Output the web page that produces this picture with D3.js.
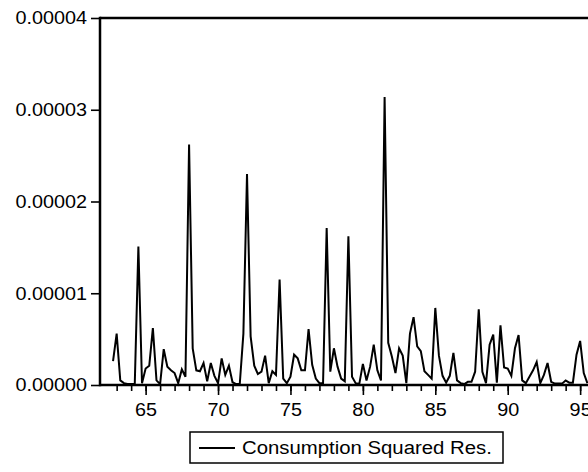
<!DOCTYPE html>
<html>
<head>
<meta charset="utf-8">
<script src="https://cdn.jsdelivr.net/npm/d3@7"></script>
<style>
  body { margin: 0; background: #fff; }
  text { font-family: "Liberation Sans", Arial, sans-serif; fill: #000; }
</style>
</head>
<body>
<script>
// quarterly squared residuals, 1962Q4 onwards (x 1e-6)
const startYear = 1962.75;
const resid = [
  2.6, 5.6, 0.5, 0.2, 0.1, 0.1, 0.1, 15.1, 0.2, 1.8,
  2.1, 6.2, 0.5, 0.1, 3.9, 2.0, 1.6, 1.3, 0.2, 1.7,
  0.9, 26.2, 4.0, 1.6, 1.5, 2.4, 0.4, 2.4, 1.0, 0.2,
  2.9, 1.1, 2.1, 0.3, 0.1, 0.1, 5.6, 23.0, 5.3, 2.1,
  1.2, 1.45, 3.2, 0.2, 1.5, 1.1, 11.5, 0.7, 0.2, 0.9,
  3.3, 2.9, 1.6, 1.6, 6.1, 2.2, 0.7, 0.2, 0.2, 17.1,
  1.45, 4.0, 2.0, 0.7, 0.4, 16.2, 0.9, 0.2, 0.1, 2.3,
  0.5, 2.0, 4.4, 1.6, 0.5, 31.4, 4.6, 3.1, 1.3, 4.0,
  3.2, 0.2, 5.6, 7.4, 4.2, 3.7, 1.5, 1.1, 0.7, 8.4,
  3.2, 1.0, 0.25, 1.0, 3.5, 0.5, 0.2, 0.1, 0.35, 0.35,
  1.45, 8.25, 1.45, 0.2, 4.4, 5.5, 0.25, 6.5, 1.9, 1.8,
  1.0, 4.0, 5.45, 0.5, 0.2, 0.9, 1.6, 2.5, 0.2, 1.1,
  2.4, 0.35, 0.15, 0.15, 0.15, 0.5, 0.25, 0.25, 3.3, 4.8,
  1.3, 0.2
];
const yTicks = [0, 0.00001, 0.00002, 0.00003, 0.00004];
const xLabelYears = [1965, 1970, 1975, 1980, 1985, 1990, 1995];
const seriesName = 'Consumption Squared Res.';

const width = 588;
const height = 472;
const plot = { left: 100, top: 18, right: 591, bottom: 385 };
const fontSize = '18px';

const data = resid.map((v, i) => ({ t: startYear + i * 0.25, v: v * 1e-6 }));

const svg = d3.select('body')
  .append('svg')
  .attr('width', width)
  .attr('height', height);

const x = d3.scaleLinear()
  .domain([1961.85, 1995.75])
  .range([plot.left, plot.right]);

const y = d3.scaleLinear()
  .domain([0, 0.00004])
  .range([plot.bottom, plot.top]);

// the original text is a little wider than plain Arial
function stretch(sel, k) {
  sel.each(function() {
    const w = this.getComputedTextLength();
    d3.select(this).attr('textLength', w * k).attr('lengthAdjust', 'spacingAndGlyphs');
  });
}

// top and right border
svg.append('path')
  .attr('d', `M${plot.left},${plot.top}H${plot.right}V${plot.bottom}`)
  .attr('fill', 'none')
  .attr('stroke', '#000')
  .attr('stroke-width', 2.5);

// series
const line = d3.line()
  .x(d => x(d.t))
  .y(d => y(d.v));

svg.append('path')
  .datum(data)
  .attr('fill', 'none')
  .attr('stroke', '#000')
  .attr('stroke-width', 2)
  .attr('d', line);

// y axis
const yAxis = svg.append('g')
  .attr('transform', `translate(${plot.left},0)`)
  .call(d3.axisLeft(y).tickValues(yTicks).tickFormat(d3.format('.5f')).tickSize(9).tickPadding(4));

// x axis: minor year ticks, then labelled ticks
const years = d3.range(1963, 1996);
const xMinor = svg.append('g')
  .attr('transform', `translate(0,${plot.bottom})`)
  .call(d3.axisBottom(x).tickValues(years).tickFormat('').tickSize(6));
const xAxis = svg.append('g')
  .attr('transform', `translate(0,${plot.bottom})`)
  .call(d3.axisBottom(x).tickValues(xLabelYears).tickFormat(d => String(d).slice(2)).tickSize(10).tickPadding(8));

[yAxis, xMinor, xAxis].forEach(g => {
  g.select('.domain').remove();
  g.selectAll('line').attr('stroke', '#000').attr('stroke-width', 1.6);
  g.selectAll('text').style('font-size', fontSize).style('font-family', '"Liberation Sans", Arial, sans-serif');
});
stretch(yAxis.selectAll('text'), 1.1);
stretch(xAxis.selectAll('text'), 1.1);

svg.append('line')
  .attr('x1', plot.left).attr('x2', plot.left)
  .attr('y1', plot.top - 1.25).attr('y2', plot.bottom + 1.25)
  .attr('stroke', '#000').attr('stroke-width', 2.5);
svg.append('line')
  .attr('x1', plot.left).attr('x2', plot.right)
  .attr('y1', plot.bottom).attr('y2', plot.bottom)
  .attr('stroke', '#000').attr('stroke-width', 2.5);

// legend
const legend = svg.append('g').attr('transform', 'translate(190,432)');
legend.append('rect')
  .attr('width', 313).attr('height', 31)
  .attr('fill', '#fff').attr('stroke', '#000').attr('stroke-width', 1.5);
legend.append('line')
  .attr('x1', 9).attr('x2', 45).attr('y1', 16).attr('y2', 16)
  .attr('stroke', '#000').attr('stroke-width', 2);
legend.append('text')
  .attr('x', 52).attr('y', 16)
  .attr('dy', '0.35em')
  .style('font-size', fontSize)
  .text(seriesName)
  .call(stretch, 1.13);
</script>
</body>
</html>
